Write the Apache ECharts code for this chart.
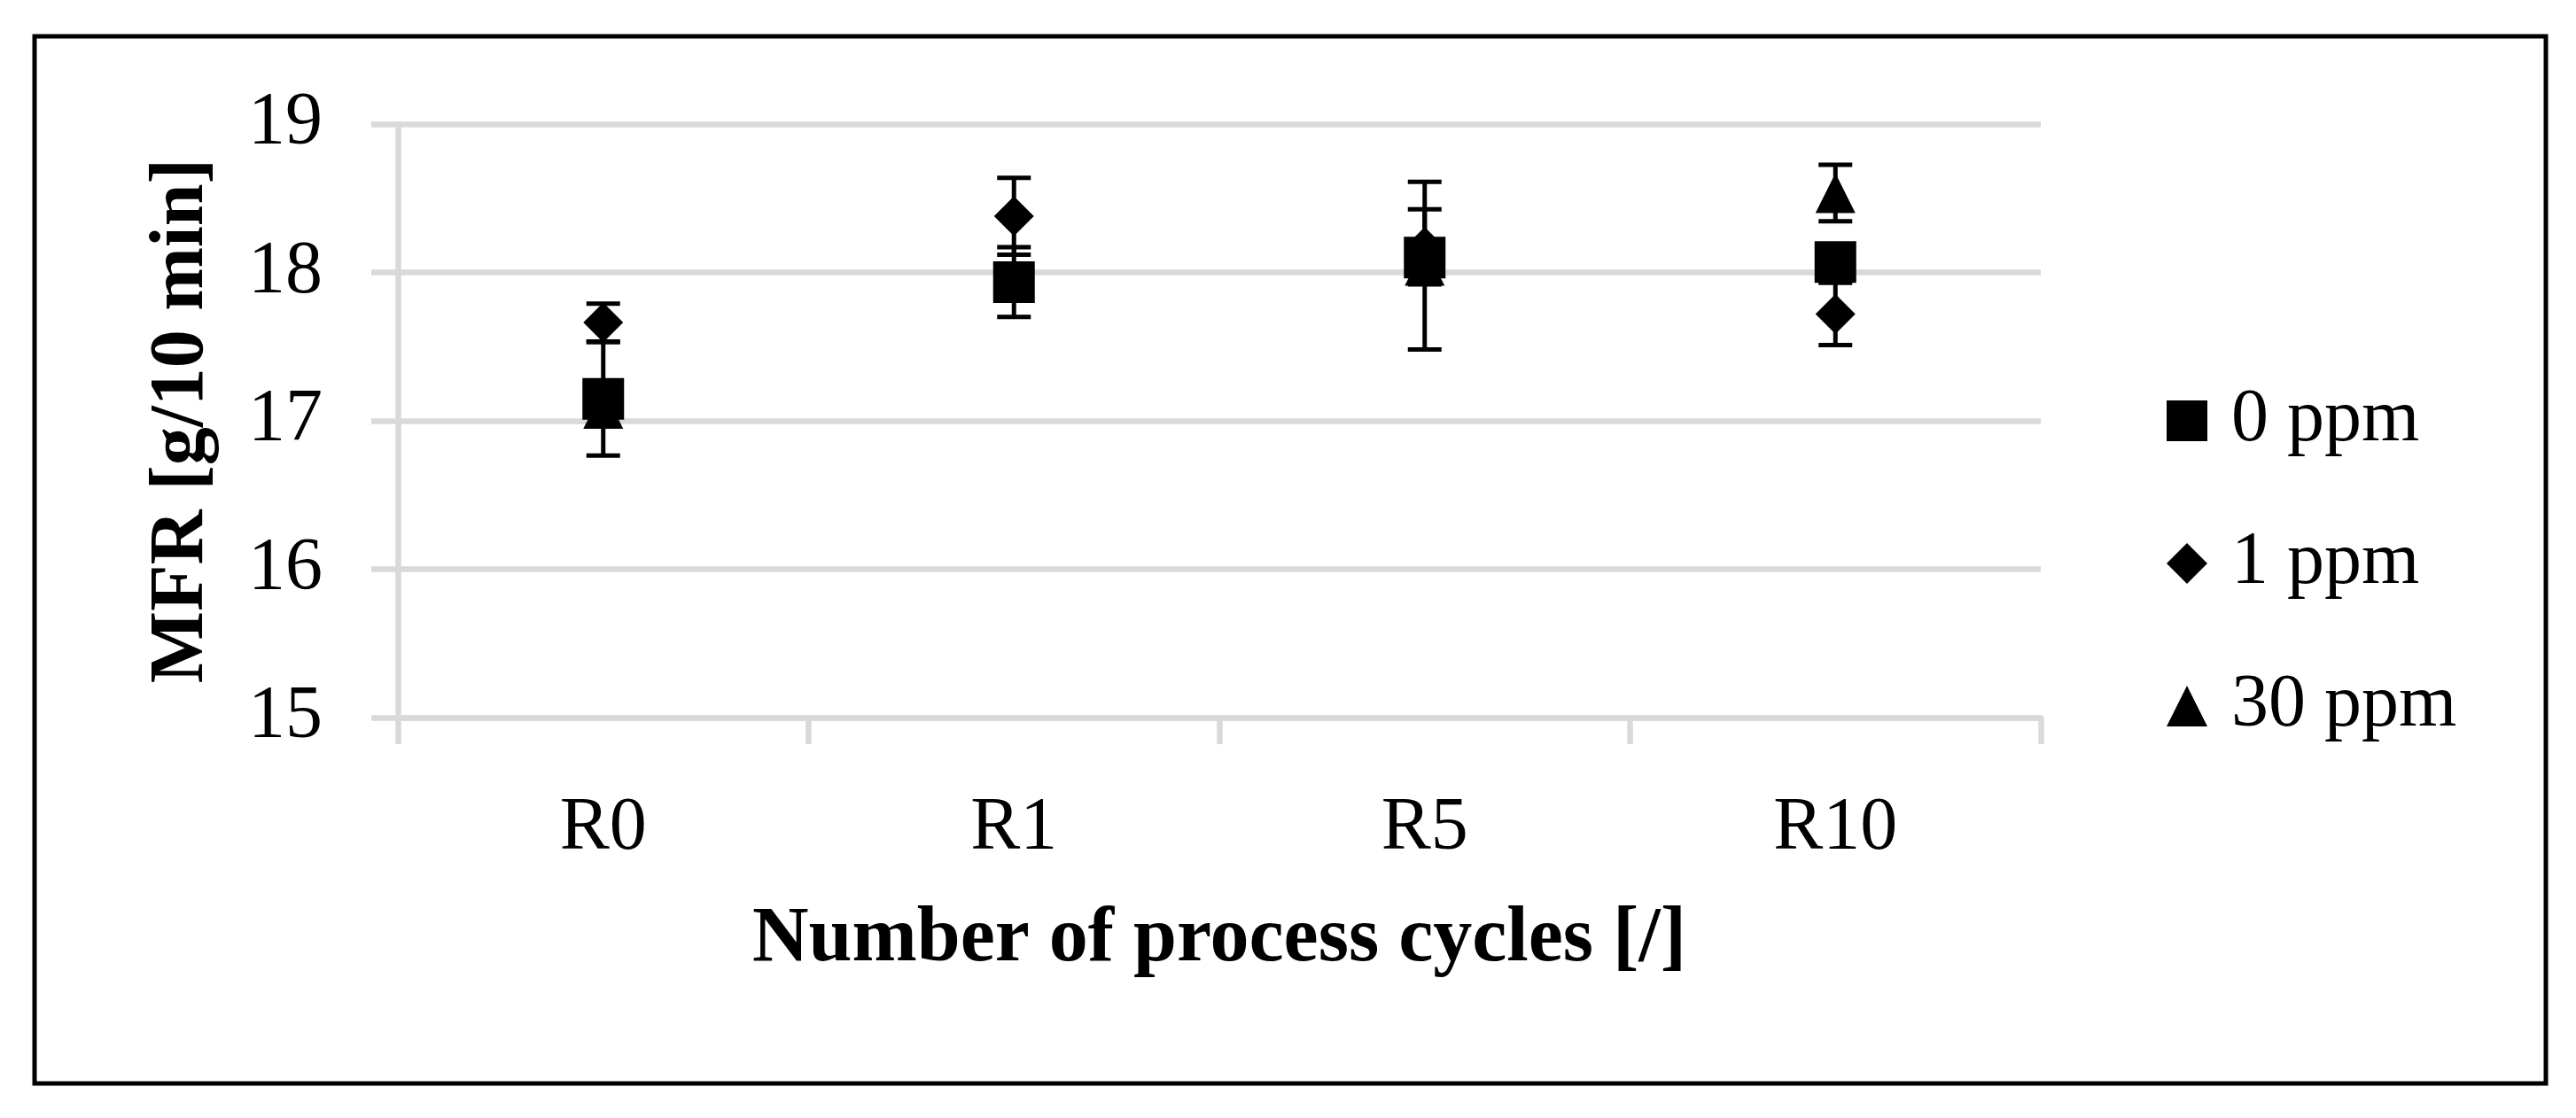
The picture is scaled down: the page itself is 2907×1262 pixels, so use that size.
<!DOCTYPE html>
<html>
<head>
<meta charset="utf-8">
<script src="https://cdn.jsdelivr.net/npm/echarts@6/dist/echarts.min.js"></script>
<style>
html,body{margin:0;padding:0;background:#fff;}
#c{width:2907px;height:1262px;}
</style>
</head>
<body>
<div id="c"></div>
<script>
// ---- data ----
var categories = ['R0', 'R1', 'R5', 'R10'];
var seriesNames = ['0 ppm', '1 ppm', '30 ppm'];
var ppm0 = [17.148, 17.935, 18.10, 18.07];
var ppm0Err = [0.382, 0.235, 0.12, 0.10];
var ppm1 = [17.662, 18.379, 18.172, 17.72];
var ppm1Err = [0.127, 0.259, 0.253, 0.21];
var ppm30 = [17.08, 17.93, 18.045, 18.535];
var ppm30Err = [0.05, 0.10, 0.565, 0.19];
var yTicks = [15, 16, 17, 18, 19];

var FONT = '"Liberation Serif", "Times New Roman", serif';
var GRIDC = '#d9d9d9';

function errData(vals, errs) {
  return vals.map(function (v, i) { return [i, v - errs[i], v + errs[i]]; });
}

function errRender(params, api) {
  var x = api.value(0);
  var lo = api.coord([x, api.value(1)]);
  var hi = api.coord([x, api.value(2)]);
  var half = 19;
  var st = { stroke: '#000', lineWidth: 5 };
  return {
    type: 'group',
    children: [
      { type: 'line', shape: { x1: hi[0], y1: hi[1], x2: lo[0], y2: lo[1] }, style: st },
      { type: 'line', shape: { x1: hi[0] - half, y1: hi[1], x2: hi[0] + half, y2: hi[1] }, style: st },
      { type: 'line', shape: { x1: lo[0] - half, y1: lo[1], x2: lo[0] + half, y2: lo[1] }, style: st }
    ]
  };
}

var symbols = ['rect', 'diamond', 'triangle'];
var vals = [ppm0, ppm1, ppm30];
var errs = [ppm0Err, ppm1Err, ppm30Err];
var sizes = [47, 45, 45];
var zs = [5, 4, 3];

var series = [];
for (var k = 0; k < 3; k++) {
  series.push({
    type: 'custom',
    name: seriesNames[k] + ' err',
    renderItem: errRender,
    data: errData(vals[k], errs[k]),
    encode: { x: 0, y: [1, 2] },
    z: 2,
    silent: true
  });
}
for (var k2 = 0; k2 < 3; k2++) {
  series.push({
    type: 'scatter',
    name: seriesNames[k2],
    data: vals[k2],
    symbol: symbols[k2],
    symbolSize: sizes[k2],
    itemStyle: { color: '#000', opacity: 1 },
    emphasis: { disabled: true },
    z: zs[k2]
  });
}

var chart = echarts.init(document.getElementById('c'), null, { renderer: 'canvas' });
chart.setOption({
  animation: false,
  backgroundColor: '#fff',
  graphic: [{
    type: 'rect',
    shape: { x: 39, y: 41, width: 2834, height: 1182 },
    style: { fill: 'none', stroke: '#000', lineWidth: 5 },
    z: 100
  }],
  grid: { left: 449, right: 604, top: 140, bottom: 452, containLabel: false },
  legend: {
    orient: 'vertical',
    left: 2440,
    top: 428,
    itemWidth: 46,
    itemHeight: 46,
    itemGap: 77,
    data: seriesNames.map(function (n, i) { return { name: n, icon: symbols[i] }; }),
    textStyle: { fontFamily: FONT, fontSize: 84, color: '#000', padding: [0, 0, 0, 22] },
    itemStyle: { color: '#000', opacity: 1 }
  },
  xAxis: {
    type: 'category',
    data: categories,
    boundaryGap: true,
    axisLine: { show: true, lineStyle: { color: GRIDC, width: 6.5 } },
    axisTick: { show: true, length: 30, lineStyle: { color: GRIDC, width: 6.5 } },
    axisLabel: { fontFamily: FONT, fontSize: 84, color: '#000', margin: 84 },
    splitLine: { show: false },
    name: 'Number of process cycles [/]',
    nameLocation: 'middle',
    nameGap: 207,
    nameTextStyle: { fontFamily: FONT, fontSize: 88, fontWeight: 'bold', color: '#000' }
  },
  yAxis: {
    type: 'value',
    min: 15,
    max: 19,
    interval: 1,
    axisLine: { show: true, lineStyle: { color: GRIDC, width: 6.5 } },
    axisTick: { show: true, length: 30, lineStyle: { color: GRIDC, width: 6.5 } },
    axisLabel: { fontFamily: FONT, fontSize: 84, color: '#000', margin: 85,
      formatter: function (v) { return yTicks.indexOf(v) >= 0 ? String(v) : ''; } },
    splitLine: { show: true, lineStyle: { color: GRIDC, width: 6.5 } },
    name: 'MFR [g/10 min]',
    nameLocation: 'middle',
    nameGap: 200,
    nameRotate: 90,
    nameTextStyle: { fontFamily: FONT, fontSize: 86, fontWeight: 'bold', color: '#000' }
  },
  series: series
});
</script>
</body>
</html>
